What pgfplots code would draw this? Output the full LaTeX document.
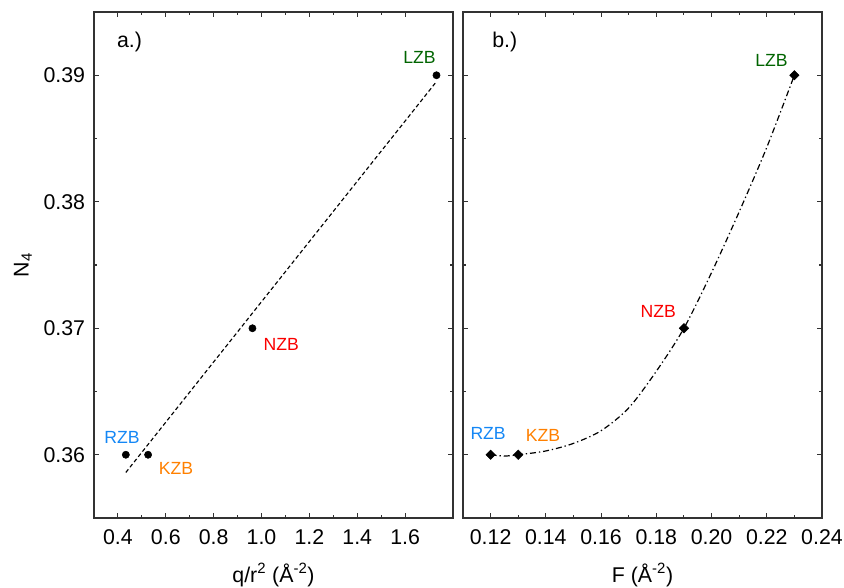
\documentclass[border=0pt]{standalone}
\usepackage{fontspec}
\setmainfont{Liberation Sans}
\usepackage{pgfplots}
\pgfplotsset{compat=1.18}
\definecolor{cRZB}{RGB}{20,135,245}
\definecolor{cKZB}{RGB}{255,128,0}
\definecolor{cNZB}{RGB}{250,0,0}
\definecolor{cLZB}{RGB}{0,100,0}
\definecolor{frame}{RGB}{50,50,50}
\begin{document}
\begin{tikzpicture}
\pgfplotsset{
  myax/.style={
    scale only axis, width=269.25pt, height=379.5pt,
    ymin=0.355, ymax=0.395,
    ytick={0.36,0.37,0.38,0.39},
    minor y tick num=1,
    minor x tick num=1,
    tick align=inside,
    axis line style={draw=frame, line width=0.9pt},
    major tick length=4pt, minor tick length=2.3pt,
    every tick/.style={frame, line width=0.8pt},
    tick label style={font=\fontsize{16}{19}\selectfont},
    xticklabel style={anchor=center, yshift=-14.25pt},
    yticklabel style={anchor=east, inner sep=0pt, xshift=-6.5pt},
    label style={font=\fontsize{16}{19}\selectfont},
    xlabel style={at={(axis description cs:0.5,-0.1127)}, anchor=center},
    ylabel style={at={(axis description cs:-0.198,0.5)}, anchor=center},
    /pgf/number format/assume math mode=true,
    yticklabel style={/pgf/number format/.cd, fixed, fixed zerofill, precision=2},
    clip=false,
  }
}
\begin{axis}[myax,
  xmin=0.3, xmax=1.8,
  xtick={0.4,0.6,0.8,1.0,1.2,1.4,1.6},
  xticklabel style={/pgf/number format/.cd, fixed, fixed zerofill, precision=1},
  xlabel={q/r\textsuperscript{2} (Å\textsuperscript{-2})},
  ylabel={N\textsubscript{4}},
]
\coordinate (LSW) at (rel axis cs:0,0);
\addplot[black, line width=0.85pt, dash pattern=on 3pt off 2pt] coordinates {(0.433,0.3586) (1.731,0.3895)};
\addplot[only marks, mark=*, mark size=2.7pt, black] coordinates {(0.433,0.36) (0.526,0.36) (0.962,0.37) (1.731,0.39)};
\node[font=\fontsize{13.2}{16}\selectfont, text=cLZB] at (axis cs:1.66,0.3914) {LZB};
\node[font=\fontsize{13.2}{16}\selectfont, text=cRZB] at (axis cs:0.417,0.3614) {RZB};
\node[font=\fontsize{13.2}{16}\selectfont, text=cKZB] at (axis cs:0.643,0.3589) {KZB};
\node[font=\fontsize{13.2}{16}\selectfont, text=cNZB] at (axis cs:1.082,0.3687) {NZB};
\node[font=\fontsize{16}{19}\selectfont, anchor=west, inner sep=0pt] at (axis cs:0.395,0.39266) {a.)};
\end{axis}
\begin{axis}[myax,
  at={(LSW)}, xshift=276.75pt, anchor=south west,
  xmin=0.11, xmax=0.24,
  xtick={0.12,0.14,0.16,0.18,0.20,0.22,0.24},
  xticklabel style={/pgf/number format/.cd, fixed, fixed zerofill, precision=2},
  yticklabels={},
  xlabel={F (Å\textsuperscript{-2})},
]
\addplot[black, line width=0.9pt, dash pattern=on 4.5pt off 2.2pt on 1pt off 2.2pt, smooth, tension=0.5] coordinates {
(0.120,0.3600) (0.125,0.3599) (0.130,0.3600) (0.140,0.3603) (0.150,0.3609)
(0.160,0.3619) (0.170,0.3637) (0.180,0.3666) (0.190,0.3700)
(0.200,0.3744) (0.210,0.3792) (0.220,0.3843) (0.230,0.3900)};
\addplot[only marks, mark=square*, mark size=2.5pt, mark options={rotate=45}, black] coordinates {(0.12,0.36) (0.13,0.36) (0.19,0.37) (0.23,0.39)};
\node[font=\fontsize{13.2}{16}\selectfont, text=cLZB] at (axis cs:0.2217,0.3912) {LZB};
\node[font=\fontsize{13.2}{16}\selectfont, text=cNZB] at (axis cs:0.1807,0.3713) {NZB};
\node[font=\fontsize{13.2}{16}\selectfont, text=cRZB] at (axis cs:0.1191,0.3617) {RZB};
\node[font=\fontsize{13.2}{16}\selectfont, text=cKZB] at (axis cs:0.139,0.3615) {KZB};
\node[font=\fontsize{16}{19}\selectfont, anchor=west, inner sep=0pt] at (axis cs:0.1205,0.39266) {b.)};
\end{axis}
\pgfresetboundingbox
\path[use as bounding box] ([shift={(-70.5pt,-51.75pt)}]LSW) rectangle ([shift={(562.5pt,388.5pt)}]LSW);
\end{tikzpicture}
\end{document}
